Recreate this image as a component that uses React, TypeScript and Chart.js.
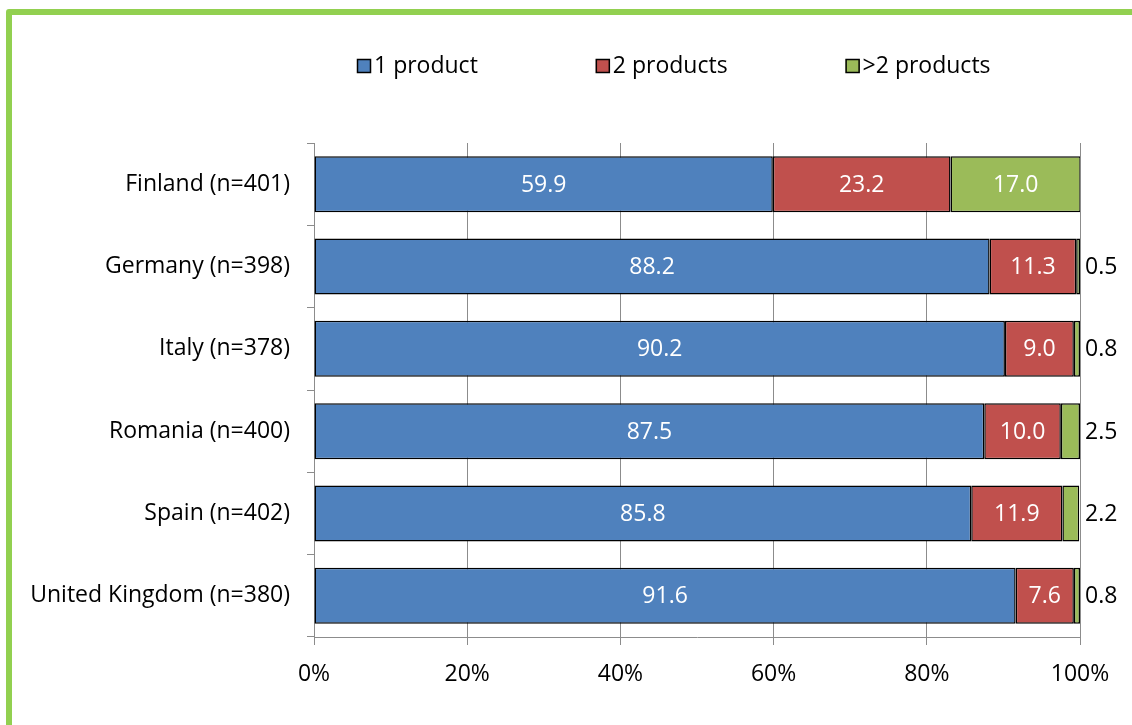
import React, { useEffect, useRef } from "react";
import { Chart, registerables } from "chart.js";

Chart.register(...registerables);

const categories = [
  "Finland (n=401)",
  "Germany (n=398)",
  "Italy (n=378)",
  "Romania (n=400)",
  "Spain (n=402)",
  "United Kingdom (n=380)",
];
const oneProduct = [59.9, 88.2, 90.2, 87.5, 85.8, 91.6];
const twoProducts = [23.2, 11.3, 9.0, 10.0, 11.9, 7.6];
const moreProducts = [17.0, 0.5, 0.8, 2.5, 2.2, 0.8];
const xTicks = [0, 20, 40, 60, 80, 100];

const FONT = "'Open Sans', sans-serif";
const FS = 23;

const labelPlugin = {
  id: "segLabels",
  afterDatasetsDraw(chart: any) {
    const ctx = chart.ctx;
    const area = chart.chartArea;
    ctx.save();
    ctx.font = `${FS}px ${FONT}`;
    ctx.textBaseline = "middle";
    chart.data.datasets.forEach((ds: any, di: number) => {
      const meta = chart.getDatasetMeta(di);
      meta.data.forEach((el: any, i: number) => {
        const v = ds.data[i];
        const p = el.getProps(["x", "y", "base"], true);
        const txt = v.toFixed(1);
        if (v >= 3) {
          ctx.fillStyle = "#ffffff";
          ctx.textAlign = "center";
          ctx.fillText(txt, (p.x + p.base) / 2, p.y + 1);
        } else {
          ctx.fillStyle = "#000000";
          ctx.textAlign = "left";
          ctx.fillText(txt, area.right + 5, p.y + 1);
        }
      });
    });
    ctx.restore();
  },
};

const legendPlugin = {
  id: "customLegend",
  afterDraw(chart: any) {
    const ctx = chart.ctx;
    ctx.save();
    ctx.font = `${FS}px ${FONT}`;
    ctx.textBaseline = "middle";
    ctx.textAlign = "left";
    let x = chart.chartArea.left + 43;
    const y = 66;
    chart.data.datasets.forEach((ds: any) => {
      ctx.fillStyle = ds.backgroundColor;
      ctx.fillRect(x, y - 7, 14, 14);
      ctx.strokeStyle = "#000";
      ctx.lineWidth = 1.5;
      ctx.strokeRect(x + 0.5, y - 6.5, 13, 13);
      ctx.fillStyle = "#000";
      ctx.fillText(ds.label, x + 17, y);
      const w = ctx.measureText(ds.label).width;
      x += 17 + w + 118;
    });
    ctx.restore();
  },
};

export default function App() {
  const ref = useRef<HTMLCanvasElement | null>(null);
  useEffect(() => {
    document.body.style.margin = "0";
    const c = ref.current;
    if (!c) return;
    const mk = (label: string, data: number[], color: string) => ({
      label,
      data,
      backgroundColor: color,
      borderColor: "#000000",
      borderWidth: 1.5,
      borderSkipped: false,
      categoryPercentage: 1,
      barPercentage: 0.68,
    });
    const chart = new Chart(c, {
      type: "bar",
      data: {
        labels: categories,
        datasets: [
          mk("1 product", oneProduct, "#4F81BD"),
          mk("2 products", twoProducts, "#C0504D"),
          mk(">2 products", moreProducts, "#9BBB59"),
        ],
      },
      options: {
        indexAxis: "y",
        responsive: false,
        animation: false,
        maintainAspectRatio: false,
        layout: { padding: { top: 143, right: 52, left: 0, bottom: 0 } },
        plugins: {
          legend: { display: false },
          tooltip: { enabled: false },
        },
        scales: {
          x: {
            stacked: true,
            min: 0,
            max: 100,
            afterBuildTicks(scale: any) {
              scale.ticks = xTicks.map((v) => ({ value: v }));
            },
            afterFit(scale: any) {
              scale.height = 88;
            },
            ticks: {
              callback: (v: any) => `${v}%`,
              color: "#000",
              font: { family: FONT, size: FS },
              padding: 16,
              maxRotation: 0,
            },
            grid: { color: "#8c8c8c", lineWidth: 1, tickLength: 8 },
            border: { color: "#8c8c8c", width: 1 },
          },
          y: {
            stacked: true,
            afterFit(scale: any) {
              scale.width = 314;
            },
            ticks: {
              color: "#000",
              font: { family: FONT, size: FS },
              padding: 17,
            },
            grid: {
              offset: true,
              drawOnChartArea: false,
              color: "#8c8c8c",
              tickLength: 7,
            },
            border: { color: "#8c8c8c", width: 1 },
          },
        },
      },
      plugins: [labelPlugin, legendPlugin],
    });
    return () => chart.destroy();
  }, []);
  return (
    <div
      style={{
        position: "relative",
        width: 1132,
        height: 725,
        overflow: "hidden",
        background: "#fff",
      }}
    >
      <canvas
        ref={ref}
        width={1132}
        height={725}
        style={{ position: "absolute", left: 0, top: 0 }}
      />
      <div
        style={{
          position: "absolute",
          left: 6,
          top: 9,
          width: 1150,
          height: 740,
          border: "6px solid #92D050",
          borderRadius: 3,
          boxSizing: "border-box",
          pointerEvents: "none",
        }}
      />
    </div>
  );
}
